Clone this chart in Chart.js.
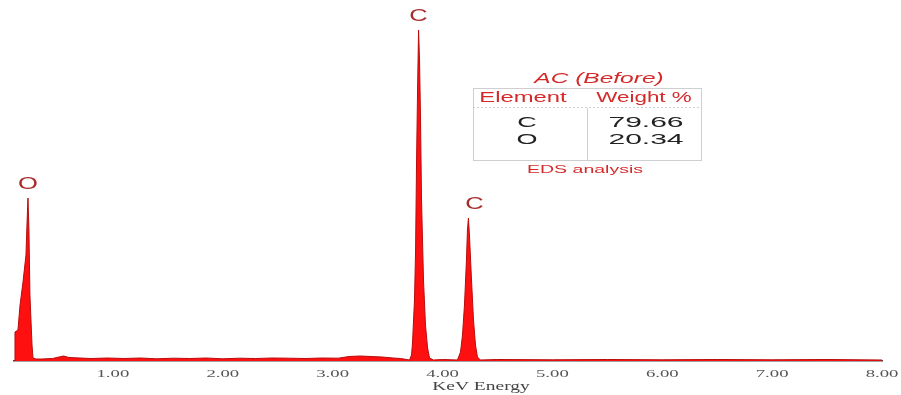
<!DOCTYPE html>
<html>
<head>
<meta charset="utf-8">
<script src="https://cdn.jsdelivr.net/npm/chart.js@4/dist/chart.umd.min.js"></script>
<style>
  html, body { margin: 0; padding: 0; background: #fff; }
  #wrap { width: 901px; height: 395px; }
</style>
</head>
<body>
<div id="wrap"><canvas id="eds" width="901" height="395"></canvas></div>
<script>
// EDS spectrum, AC (Before)
// energies in keV, counts in arbitrary units

const energy = [
  0.100, 0.109, 0.136, 0.155, 0.182, 0.209, 0.218, 0.227, 0.236, 0.245, 0.264, 0.273, 0.300,
  0.35, 0.45, 0.55, 0.60, 0.70, 0.80, 0.95, 1.10, 1.25, 1.40, 1.55, 1.70, 1.85, 2.00,
  2.15, 2.30, 2.45, 2.60, 2.75, 2.90, 3.05, 3.15, 3.25, 3.35, 3.45, 3.55, 3.62,
  3.700, 3.718, 3.727, 3.745, 3.755, 3.764, 3.773, 3.782, 3.791, 3.800, 3.809, 3.827,
  3.845, 3.864, 3.882, 3.918, 4.00, 4.08,
  4.136, 4.164, 4.182, 4.200, 4.218, 4.227, 4.236, 4.245, 4.264, 4.282, 4.300, 4.318, 4.345,
  4.50, 5.00, 5.50, 6.00, 6.50, 7.00, 7.50, 8.00
];
const counts = [
  0, 290, 310, 560, 790, 1060, 1360, 1630, 1310, 660, 160, 30, 20,
  20, 25, 50, 35, 30, 25, 30, 25, 30, 22, 28, 25, 30, 22,
  28, 25, 30, 28, 25, 30, 28, 45, 50, 45, 40, 30, 25,
  10, 60, 180, 610, 1110, 2010, 2710, 3310, 3010, 2410, 1610, 810,
  360, 130, 30, 10, 15, 12,
  10, 90, 260, 560, 1010, 1310, 1430, 1260, 810, 410, 160, 40, 10,
  15, 12, 15, 12, 15, 12, 15, 10
];

const xTicks = [1, 2, 3, 4, 5, 6, 7, 8];
const xTitle = 'KeV Energy';

// peak labels: element, energy (keV), counts at the peak top
const peakNames = ['O', 'C', 'C'];
const peakEnergy = [0.227, 3.782, 4.236];
const peakCounts = [1630, 3310, 1430];

// inset table
const insetTitle = 'AC (Before)';
const tableHeader = ['Element', 'Weight %'];
const tableElements = ['C', 'O'];
const tableWeights = [79.66, 20.34];
const insetNote = 'EDS analysis';

const red = '#d42a2a';
const serif = '"Liberation Serif", "DejaVu Serif", serif';
const sans = '"Liberation Sans", Arial, sans-serif';

// the source figure is stretched sideways, so text gets a horizontal scale
function wideText(ctx, text, x, y, sx) {
  ctx.save();
  ctx.translate(x, y);
  ctx.scale(sx, 1);
  ctx.fillText(text, 0, 0);
  ctx.restore();
}

const axisText = {
  id: 'axisText',
  afterDraw(chart) {
    const { ctx, scales: { x } } = chart;
    ctx.save();
    ctx.fillStyle = '#555';
    ctx.textAlign = 'center';
    ctx.textBaseline = 'middle';
    ctx.font = '11px ' + serif;
    x.ticks.forEach(t => {
      wideText(ctx, t.value.toFixed(2), x.getPixelForValue(t.value), 374, 1.7);
    });
    ctx.fillStyle = '#444';
    ctx.font = '13px ' + serif;
    wideText(ctx, xTitle, 481, 387, 1.5);
    ctx.restore();
  }
};

const peakLabels = {
  id: 'peakLabels',
  afterDatasetsDraw(chart) {
    const { ctx, scales: { x, y } } = chart;
    ctx.save();
    ctx.fillStyle = '#a82a2a';
    ctx.font = '17px ' + sans;
    ctx.textAlign = 'center';
    ctx.textBaseline = 'bottom';
    peakNames.forEach((n, i) => {
      wideText(ctx, n, x.getPixelForValue(peakEnergy[i]) + (i === 2 ? 6 : 0), y.getPixelForValue(peakCounts[i]) - 5, 1.5);
    });
    ctx.restore();
  }
};

const inset = {
  id: 'inset',
  afterDraw(chart) {
    const ctx = chart.ctx;
    const bx = 473, by = 88, bw = 228, bh = 72, colX = 587;
    ctx.save();
    ctx.strokeStyle = '#cfcfcf';
    ctx.lineWidth = 1;
    ctx.strokeRect(bx + 0.5, by + 0.5, bw, bh);
    ctx.beginPath();
    ctx.setLineDash([2, 2]);
    ctx.moveTo(bx, by + 19.5);
    ctx.lineTo(bx + bw, by + 19.5);
    ctx.stroke();
    ctx.setLineDash([]);
    ctx.beginPath();
    ctx.moveTo(colX + 0.5, by + 20);
    ctx.lineTo(colX + 0.5, by + bh);
    ctx.stroke();

    ctx.textAlign = 'center';
    ctx.textBaseline = 'middle';
    ctx.fillStyle = red;
    ctx.font = 'italic 14px ' + sans;
    wideText(ctx, insetTitle, 599, 79, 1.75);
    ctx.font = '14px ' + sans;
    wideText(ctx, tableHeader[0], 523, 98, 1.7);
    wideText(ctx, tableHeader[1], 644, 98, 1.6);

    ctx.fillStyle = '#222';
    ctx.font = '15px ' + sans;
    tableElements.forEach((el, i) => {
      const ty = 123 + i * 17;
      wideText(ctx, el, 527, ty, 1.8);
      wideText(ctx, tableWeights[i].toFixed(2), 646, ty, 2.0);
    });

    ctx.fillStyle = red;
    ctx.font = '10px ' + sans;
    wideText(ctx, insetNote, 585, 170, 1.95);
    ctx.restore();
  }
};

new Chart(document.getElementById('eds'), {
  type: 'line',
  data: {
    datasets: [{
      label: 'EDS',
      data: energy.map((e, i) => ({ x: e, y: counts[i] })),
      borderColor: '#b80c0c',
      backgroundColor: '#ff1010',
      borderWidth: 1,
      pointRadius: 0,
      tension: 0,
      fill: 'origin'
    }]
  },
  options: {
    responsive: false,
    animation: false,
    devicePixelRatio: 1,
    layout: { padding: { left: 14, right: 19, top: 20, bottom: 0 } },
    plugins: { legend: { display: false }, tooltip: { enabled: false } },
    scales: {
      x: {
        type: 'linear',
        min: 0.1, max: 8.0,
        afterBuildTicks: s => { s.ticks = xTicks.map(v => ({ value: v })); },
        afterFit: s => { s.height = 34; },
        grid: { display: false, drawTicks: false },
        border: { display: true, color: '#444', width: 1.5 },
        ticks: {
          color: 'rgba(0,0,0,0)',
          maxRotation: 0,
          autoSkip: false,
          font: { family: serif, size: 11 },
          callback: v => v.toFixed(2)
        }
      },
      y: { display: false, min: 0, max: 3410 }
    }
  },
  plugins: [peakLabels, inset, axisText]
});
</script>
</body>
</html>
